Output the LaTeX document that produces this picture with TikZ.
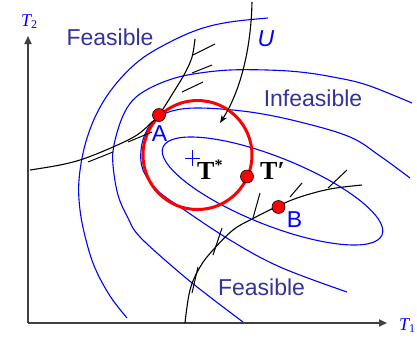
\documentclass[tikz,border=0pt]{standalone}
\usepackage{fontspec}
\setmainfont{Liberation Sans}
\newfontfamily\timesfont{Liberation Serif}
\usetikzlibrary{arrows.meta}
\definecolor{regionblue}{RGB}{51,51,153}
\definecolor{axisgray}{RGB}{64,64,64}

\begin{document}
\begin{tikzpicture}[
   x=1pt, y=-1pt, >={Stealth[length=8pt, width=6pt]},
   contour/.style={blue, line width=1.1pt},
   limit/.style={black, line width=1.1pt},
   hatch/.style={black, line width=1pt},
   axis/.style={draw=axisgray, line width=1.8pt, -{Triangle[length=8pt, width=7pt]}},
   region/.style={text=regionblue, font=\fontsize{23}{26}\selectfont, inner sep=0pt},
   ptlab/.style={text=blue, font=\fontsize{23}{26}\selectfont, inner sep=0pt},
   dot/.style={circle, draw=black, fill=red, line width=0.6pt, inner sep=0pt, minimum size=13pt},
   tlab/.style={font=\timesfont\bfseries\fontsize{26}{28}\selectfont, inner sep=0pt, anchor=base west},
   axlab/.style={text=blue, font=\timesfont\itshape\fontsize{18}{20}\selectfont, inner sep=0pt, anchor=base west}]
  \useasboundingbox (0,0) rectangle (417,341);
  \coordinate (O) at (28,323);
  \coordinate (xtip) at (387,323);
  \coordinate (ytip) at (28,36);
  \draw[axis] (O) -- (xtip);
  \draw[axis] (O) -- (ytip);
  \node[axlab] (T1) at (399,330) {T\raisebox{-0.35ex}{\fontsize{12}{12}\selectfont\upshape 1}};
  \node[axlab] (T2) at (21,26) {T\raisebox{-0.35ex}{\fontsize{12}{12}\selectfont\upshape 2}};

  \draw[contour, rotate around={-21.8:(272.5,191)}] (272.5,191) ellipse [x radius=118, y radius=34];
  \draw[contour] plot[smooth, tension=0.6] coordinates {(410,178) (380,156) (350,137) (300,122) (250,112)
     (200,108) (172,111) (155,120) (146,132) (141,150) (143,170) (157,190) (180,207) (230,240) (280,267) (347,292)};
  \draw[contour] plot[smooth, tension=0.6] coordinates {(412,103) (367,85) (333,77) (300,72) (267,70) (230,70)
     (200,73) (175,78) (150,88) (133,100) (122,118) (114,145) (113,165) (118,195) (128,218) (140,237)
     (180,273) (210,297) (243,322)};
  \draw[contour] plot[smooth, tension=0.6] coordinates {(268,18) (230,22) (200,29) (170,42) (140,60) (115,85)
     (97,113) (85,145) (79,180) (80,210) (86,240) (95,268) (110,296) (127,318)};

  \draw[red, line width=3pt] (197.5,155) circle [radius=54.5];

  \draw[limit] plot[smooth, tension=0.6] coordinates {(30,170) (60,165) (83,159) (113,147) (137,135) (152,122)
     (159,115) (173,93) (185,73) (192,57) (195,39)};
  \draw[hatch] (88,162) -- (113,152) (128,142) -- (152,132) (182,92) -- (203,82)
     (192,73) -- (212,65) (193,55) -- (215,44);
  \draw[limit] plot[smooth, tension=0.6] coordinates {(185,323) (190,290) (200,267) (213,250) (233,230)
     (252,219) (278,206) (300,197) (330,189) (362,185)};
  \draw[hatch] (198,267) -- (192,293) (222,228) -- (213,255) (260,193) -- (253,218)
     (302,183) -- (290,197) (347,170) -- (328,188);

  \coordinate (Ustart) at (252,2);
  \coordinate (Uend) at (220,123);
  \draw[limit, ->] (Ustart) .. controls (251,50) and (240,92) .. (Uend);
  \node[ptlab, font=\fontsize{23}{26}\selectfont\itshape] (Ulab) at (266,39) {U};

  \coordinate (Tstar) at (192.5,158);
  \draw[blue, line width=1pt] ([xshift=-7.5pt]Tstar) -- ([xshift=7.5pt]Tstar)
     ([yshift=8pt]Tstar) -- ([yshift=-8pt]Tstar);
  \node[tlab] (Tstarlab) at (197,179) {T\raisebox{0.75ex}{\fontsize{16}{16}\selectfont *}};

  \node[dot] (A) at (159,115) {};
  \node[ptlab] (Alab) at (159.5,133.5) {A};
  \node[dot] (Tprime) at (247,176.5) {};
  \node[tlab] (Tprimelab) at (260,179) {T′};
  \node[dot] (B) at (278.5,207) {};
  \node[ptlab] (Blab) at (294.5,220) {B};

  \node[region] (feasup) at (110,37) {Feasible};
  \node[region] (infeas) at (313,98.5) {Infeasible};
  \node[region] (feaslow) at (261.5,287.5) {Feasible};
\end{tikzpicture}
\end{document}
